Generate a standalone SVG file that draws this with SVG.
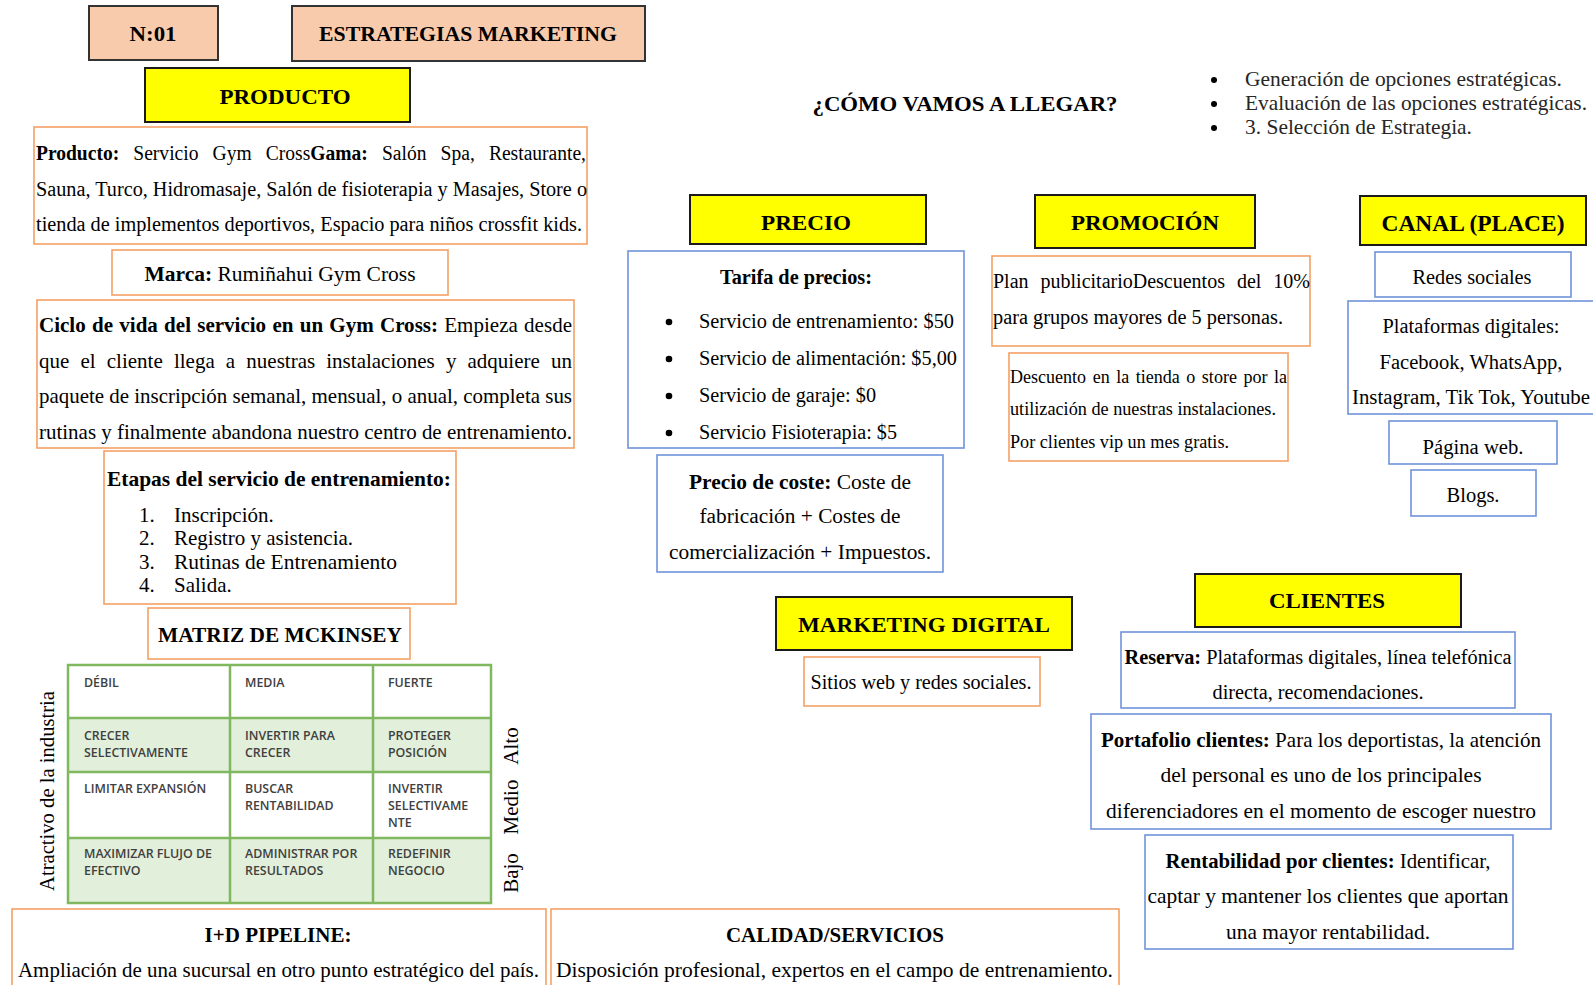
<svg xmlns="http://www.w3.org/2000/svg" width="1593" height="985" viewBox="0 0 1593 985">
<style>
text{font-family:"Liberation Serif","Times New Roman",serif;fill:#000}
.b{font-weight:bold}
.c{text-anchor:middle}
.h{font-weight:bold;font-size:22px;text-anchor:middle}
.t20{font-size:20px}
.t21{font-size:21px}
.peach{fill:#F8CBAD;stroke:#333;stroke-width:2}
.yel{fill:#FFFF00;stroke:#1a1a1a;stroke-width:2}
.ob{fill:#fff;stroke:#F4A064;stroke-width:1.6}
.bb{fill:#fff;stroke:#6F94D9;stroke-width:1.6}
.mx text{font-family:"Open Sans","Liberation Sans",sans-serif;font-weight:600;font-size:12.4px;fill:#404040}
.grid{fill:none;stroke:#80B860;stroke-width:2.5}
.gf{fill:#E2EFDA;stroke:none}
.gray{fill:#262626}
</style>
<rect width="1593" height="985" fill="#fff"/>

<g id="n01"><rect class="peach" x="89" y="6" width="129" height="54"/><text class="h" x="153" y="41" textLength="47" lengthAdjust="spacingAndGlyphs">N:01</text></g>
<g id="estrategias"><rect class="peach" x="292" y="6" width="353" height="55"/><text class="h" x="468" y="41" textLength="298" lengthAdjust="spacingAndGlyphs">ESTRATEGIAS MARKETING</text></g>

<g id="producto-h"><rect class="yel" x="145" y="68" width="265" height="54"/><text class="h" x="285" y="104" textLength="131" lengthAdjust="spacingAndGlyphs">PRODUCTO</text></g>

<g id="producto-box"><rect class="ob" x="34" y="127" width="553" height="117"/>
<text class="t20" x="36" y="160" word-spacing="9.5" textLength="550" lengthAdjust="spacingAndGlyphs"><tspan class="b">Producto:</tspan> Servicio Gym Cross<tspan class="b">Gama:</tspan> Salón Spa, Restaurante,</text>
<text class="t20" x="36" y="196" textLength="551" lengthAdjust="spacingAndGlyphs">Sauna, Turco, Hidromasaje, Salón de fisioterapia y Masajes, Store o</text>
<text class="t20" x="36" y="231" textLength="546" lengthAdjust="spacingAndGlyphs">tienda de implementos deportivos, Espacio para niños crossfit kids.</text>
</g>

<g id="marca"><rect class="ob" x="112" y="250" width="336" height="45"/><text class="t20 c" x="280" y="281" textLength="271" lengthAdjust="spacingAndGlyphs"><tspan class="b">Marca:</tspan> Rumiñahui Gym Cross</text></g>

<g id="ciclo"><rect class="ob" x="37" y="300" width="537" height="148"/>
<text class="t21" x="39" y="332" word-spacing="1" textLength="533" lengthAdjust="spacingAndGlyphs"><tspan class="b">Ciclo de vida del servicio en un Gym Cross:</tspan> Empieza desde</text>
<text class="t21" x="39" y="368" word-spacing="5.9" textLength="533" lengthAdjust="spacingAndGlyphs">que el cliente llega a nuestras instalaciones y adquiere un</text>
<text class="t21" x="39" y="403" textLength="533" lengthAdjust="spacingAndGlyphs">paquete de inscripción semanal, mensual, o anual, completa sus</text>
<text class="t21" x="39" y="439" textLength="533" lengthAdjust="spacingAndGlyphs">rutinas y finalmente abandona nuestro centro de entrenamiento.</text>
</g>

<g id="etapas"><rect class="ob" x="104" y="451" width="352" height="153"/>
<text class="b c" style="font-size:21px" x="279" y="486" textLength="344" lengthAdjust="spacingAndGlyphs">Etapas del servicio de entrenamiento:</text>
<g style="font-size:21px">
<text x="139" y="522">1.</text><text x="174" y="522">Inscripción.</text>
<text x="139" y="545">2.</text><text x="174" y="545">Registro y asistencia.</text>
<text x="139" y="569">3.</text><text x="174" y="569" textLength="223" lengthAdjust="spacingAndGlyphs">Rutinas de Entrenamiento</text>
<text x="139" y="592">4.</text><text x="174" y="592">Salida.</text>
</g></g>

<g id="mckinsey-title"><rect class="ob" x="148" y="608" width="262" height="51"/><text class="b c" style="font-size:21px" x="280" y="642" textLength="244" lengthAdjust="spacingAndGlyphs">MATRIZ DE MCKINSEY</text></g>

<g id="mckinsey-matrix" class="mx">
<rect x="68" y="665" width="423" height="238" fill="#fff"/>
<rect class="gf" x="68" y="718" width="423" height="54"/>
<rect class="gf" x="68" y="838" width="423" height="65"/>
<rect class="grid" x="68" y="665" width="423" height="238"/>
<path class="grid" d="M230 665V903M373 665V903M68 718H491M68 772H491M68 838H491"/>
<text x="84" y="687">DÉBIL</text><text x="245" y="687">MEDIA</text><text x="388" y="687">FUERTE</text>
<text x="84" y="740">CRECER</text><text x="84" y="757">SELECTIVAMENTE</text>
<text x="245" y="740">INVERTIR PARA</text><text x="245" y="757">CRECER</text>
<text x="388" y="740">PROTEGER</text><text x="388" y="757">POSICIÓN</text>
<text x="84" y="793">LIMITAR EXPANSIÓN</text>
<text x="245" y="793">BUSCAR</text><text x="245" y="810">RENTABILIDAD</text>
<text x="388" y="793">INVERTIR</text><text x="388" y="810">SELECTIVAME</text><text x="388" y="827">NTE</text>
<text x="84" y="858">MAXIMIZAR FLUJO DE</text><text x="84" y="875">EFECTIVO</text>
<text x="245" y="858">ADMINISTRAR POR</text><text x="245" y="875">RESULTADOS</text>
<text x="388" y="858">REDEFINIR</text><text x="388" y="875">NEGOCIO</text>
</g>
<g id="axis-labels" style="font-size:21px">
<text class="c" transform="translate(54 791) rotate(-90)" textLength="200" lengthAdjust="spacingAndGlyphs">Atractivo de la industria</text>
<text class="c" transform="translate(518 746) rotate(-90)">Alto</text>
<text class="c" transform="translate(518 807) rotate(-90)">Medio</text>
<text class="c" transform="translate(518 873) rotate(-90)">Bajo</text>
</g>

<g id="pipeline"><rect class="ob" x="12" y="909" width="534" height="90"/>
<text class="b c" style="font-size:21px" x="278" y="942" textLength="147" lengthAdjust="spacingAndGlyphs">I+D PIPELINE:</text>
<text class="t21" x="18" y="977" textLength="521" lengthAdjust="spacingAndGlyphs">Ampliación de una sucursal en otro punto estratégico del país.</text></g>

<g id="calidad"><rect class="ob" x="551" y="909" width="568" height="90"/>
<text class="b c" style="font-size:21px" x="835" y="942" textLength="218" lengthAdjust="spacingAndGlyphs">CALIDAD/SERVICIOS</text>
<text class="t21" x="556" y="977" textLength="557" lengthAdjust="spacingAndGlyphs">Disposición profesional, expertos en el campo de entrenamiento.</text></g>

<g id="como"><text class="h" x="965" y="111" textLength="305" lengthAdjust="spacingAndGlyphs">¿CÓMO VAMOS A LLEGAR?</text></g>

<g id="pasos" class="gray" style="font-size:21px">
<circle cx="1214" cy="80" r="3" fill="#000"/><text class="gray" x="1245" y="86" textLength="317" lengthAdjust="spacingAndGlyphs">Generación de opciones estratégicas.</text>
<circle cx="1214" cy="104" r="3" fill="#000"/><text class="gray" x="1245" y="110" textLength="342" lengthAdjust="spacingAndGlyphs">Evaluación de las opciones estratégicas.</text>
<circle cx="1214" cy="128" r="3" fill="#000"/><text class="gray" x="1245" y="134" textLength="227" lengthAdjust="spacingAndGlyphs">3. Selección de Estrategia.</text>
</g>

<g id="precio-h"><rect class="yel" x="690" y="195" width="236" height="49"/><text class="h" x="806" y="230" textLength="90" lengthAdjust="spacingAndGlyphs">PRECIO</text></g>
<g id="tarifa"><rect class="bb" x="628" y="251" width="336" height="197"/>
<text class="b c t20" x="796" y="284" textLength="152" lengthAdjust="spacingAndGlyphs">Tarifa de precios:</text>
<circle cx="669" cy="322" r="3.3"/><text class="t20" x="699" y="328" textLength="255" lengthAdjust="spacingAndGlyphs">Servicio de entrenamiento: $50</text>
<circle cx="669" cy="359" r="3.3"/><text class="t20" x="699" y="365" textLength="258" lengthAdjust="spacingAndGlyphs">Servicio de alimentación: $5,00</text>
<circle cx="669" cy="396" r="3.3"/><text class="t20" x="699" y="402" textLength="177" lengthAdjust="spacingAndGlyphs">Servicio de garaje: $0</text>
<circle cx="669" cy="433" r="3.3"/><text class="t20" x="699" y="439" textLength="198" lengthAdjust="spacingAndGlyphs">Servicio Fisioterapia: $5</text>
</g>
<g id="coste"><rect class="bb" x="657" y="455" width="286" height="117"/>
<text class="t20 c" x="800" y="489" textLength="222" lengthAdjust="spacingAndGlyphs"><tspan class="b">Precio de coste:</tspan> Coste de</text>
<text class="t20 c" x="800" y="523" textLength="201" lengthAdjust="spacingAndGlyphs">fabricación + Costes de</text>
<text class="t20 c" x="800" y="559" textLength="262" lengthAdjust="spacingAndGlyphs">comercialización + Impuestos.</text>
</g>

<g id="promocion-h"><rect class="yel" x="1035" y="195" width="220" height="53"/><text class="h" x="1145" y="230" textLength="148" lengthAdjust="spacingAndGlyphs">PROMOCIÓN</text></g>
<g id="plan"><rect class="ob" x="992" y="256" width="318" height="90"/>
<text class="t20" x="993" y="288" word-spacing="7" textLength="317" lengthAdjust="spacingAndGlyphs">Plan publicitarioDescuentos del 10%</text>
<text class="t20" x="993" y="324" textLength="290" lengthAdjust="spacingAndGlyphs">para grupos mayores de 5 personas.</text>
</g>
<g id="descuento"><rect class="ob" x="1009" y="353" width="279" height="108"/>
<text style="font-size:18px" x="1010" y="383" word-spacing="2" textLength="277" lengthAdjust="spacingAndGlyphs">Descuento en la tienda o store por la</text>
<text style="font-size:18px" x="1010" y="415" textLength="266" lengthAdjust="spacingAndGlyphs">utilización de nuestras instalaciones.</text>
<text style="font-size:18px" x="1010" y="448" textLength="219" lengthAdjust="spacingAndGlyphs">Por clientes vip un mes gratis.</text>
</g>

<g id="canal-h"><rect class="yel" x="1360" y="196" width="226" height="49"/><text class="h" style="font-size:23px" x="1473" y="231" textLength="183" lengthAdjust="spacingAndGlyphs">CANAL (PLACE)</text></g>
<g id="redes"><rect class="bb" x="1375" y="252" width="196" height="45"/><text class="t20 c" x="1472" y="284" textLength="119" lengthAdjust="spacingAndGlyphs">Redes sociales</text></g>
<g id="plataformas"><rect class="bb" x="1348" y="301" width="260" height="113"/>
<text class="t20 c" x="1471" y="333" textLength="177" lengthAdjust="spacingAndGlyphs">Plataformas digitales:</text>
<text class="t20 c" x="1471" y="369" textLength="183" lengthAdjust="spacingAndGlyphs">Facebook, WhatsApp,</text>
<text class="t20 c" x="1471" y="404" textLength="238" lengthAdjust="spacingAndGlyphs">Instagram, Tik Tok, Youtube</text>
</g>
<g id="pagina"><rect class="bb" x="1389" y="421" width="168" height="43"/><text class="t20 c" x="1473" y="454" textLength="101" lengthAdjust="spacingAndGlyphs">Página web.</text></g>
<g id="blogs"><rect class="bb" x="1411" y="470" width="125" height="46"/><text class="t20 c" x="1473" y="502" textLength="53" lengthAdjust="spacingAndGlyphs">Blogs.</text></g>

<g id="mkt-digital-h"><rect class="yel" x="776" y="597" width="296" height="53"/><text class="h" x="924" y="632" textLength="252" lengthAdjust="spacingAndGlyphs">MARKETING DIGITAL</text></g>
<g id="sitios"><rect class="ob" x="804" y="657" width="236" height="49"/><text class="t20 c" x="921" y="689" textLength="221" lengthAdjust="spacingAndGlyphs">Sitios web y redes sociales.</text></g>

<g id="clientes-h"><rect class="yel" x="1195" y="574" width="266" height="53"/><text class="h" x="1327" y="608" textLength="116" lengthAdjust="spacingAndGlyphs">CLIENTES</text></g>
<g id="reserva"><rect class="bb" x="1121" y="632" width="394" height="76"/>
<text class="t20 c" x="1318" y="664" textLength="387" lengthAdjust="spacingAndGlyphs"><tspan class="b">Reserva:</tspan> Plataformas digitales, línea telefónica</text>
<text class="t20 c" x="1318" y="699" textLength="211" lengthAdjust="spacingAndGlyphs">directa, recomendaciones.</text>
</g>
<g id="portafolio"><rect class="bb" x="1091" y="714" width="460" height="115"/>
<text class="t21 c" x="1321" y="747" textLength="440" lengthAdjust="spacingAndGlyphs"><tspan class="b">Portafolio clientes:</tspan> Para los deportistas, la atención</text>
<text class="t21 c" x="1321" y="782" textLength="321" lengthAdjust="spacingAndGlyphs">del personal es uno de los principales</text>
<text class="t21 c" x="1321" y="818" textLength="430" lengthAdjust="spacingAndGlyphs">diferenciadores en el momento de escoger nuestro</text>
</g>
<g id="rentabilidad"><rect class="bb" x="1145" y="835" width="368" height="114"/>
<text class="t21 c" x="1328" y="868" textLength="325" lengthAdjust="spacingAndGlyphs"><tspan class="b">Rentabilidad por clientes:</tspan> Identificar,</text>
<text class="t21 c" x="1328" y="903" textLength="361" lengthAdjust="spacingAndGlyphs">captar y mantener los clientes que aportan</text>
<text class="t21 c" x="1328" y="939" textLength="204" lengthAdjust="spacingAndGlyphs">una mayor rentabilidad.</text>
</g>
<g id="connectors"></g>
</svg>
